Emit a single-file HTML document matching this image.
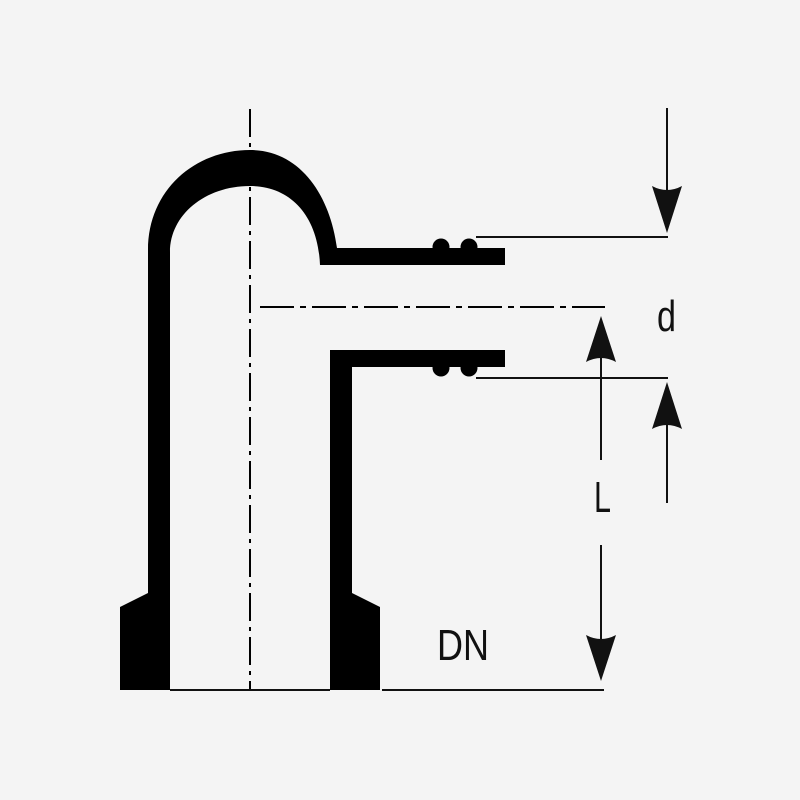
<!DOCTYPE html>
<html><head><style>
html,body{margin:0;padding:0;background:#f4f4f4;}
svg{display:block;}
text{font-family:"Liberation Sans",sans-serif;fill:#111;}
</style></head><body>
<svg width="800" height="800" viewBox="0 0 800 800" xmlns="http://www.w3.org/2000/svg">
<rect width="800" height="800" fill="#f4f4f4"/>
<path d="M148,593 L148,250 C148,190 195,150 250,150 C300,150 330,195 337,248 L505,248 L505,265 L320,265 C318,215 290,186 250,186 C205,186 170,215 170,252 L170,690 L148,690 Z" fill="#000"/>
<path d="M148,593 L120,607 L120,690 L170,690 L170,593 Z" fill="#000"/>
<path d="M330,350 L505,350 L505,367 L352,367 L352,593 L380,607 L380,690 L330,690 Z" fill="#000"/>
<circle cx="441" cy="247" r="8.5" fill="#000"/>
<circle cx="469" cy="247" r="8.5" fill="#000"/>
<circle cx="441" cy="368" r="8.5" fill="#000"/>
<circle cx="469" cy="368" r="8.5" fill="#000"/>
<line x1="250" y1="103" x2="250" y2="690" stroke="#000" stroke-width="2" stroke-dasharray="28,6,4,6" stroke-dashoffset="-6"/>
<line x1="260" y1="307" x2="605" y2="307" stroke="#000" stroke-width="2" stroke-dasharray="34,6,6,6"/>
<line x1="476" y1="237" x2="668" y2="237" stroke="#111" stroke-width="2"/>
<line x1="476" y1="378" x2="668" y2="378" stroke="#111" stroke-width="2"/>
<line x1="170" y1="690" x2="330" y2="690" stroke="#111" stroke-width="2"/>
<line x1="382" y1="690" x2="604" y2="690" stroke="#111" stroke-width="2"/>
<line x1="667" y1="108" x2="667" y2="200" stroke="#111" stroke-width="2"/>
<path d="M667,233 L652,186 Q667,194 682,186 Z" fill="#111"/>
<line x1="667" y1="420" x2="667" y2="503" stroke="#111" stroke-width="2"/>
<path d="M667,382 L652,429 Q667,421 682,429 Z" fill="#111"/>
<line x1="601" y1="340" x2="601" y2="460" stroke="#111" stroke-width="2"/>
<path d="M601,316 L586,362 Q601,354 616,362 Z" fill="#111"/>
<line x1="601" y1="545" x2="601" y2="650" stroke="#111" stroke-width="2"/>
<path d="M601,681 L586,635 Q601,643 616,635 Z" fill="#111"/>
<text x="657" y="331" font-size="44" textLength="19" lengthAdjust="spacingAndGlyphs">d</text>
<text x="594" y="512" font-size="44" textLength="17" lengthAdjust="spacingAndGlyphs">L</text>
<text x="437" y="660" font-size="44" textLength="52" lengthAdjust="spacingAndGlyphs">DN</text>
</svg>
</body></html>
